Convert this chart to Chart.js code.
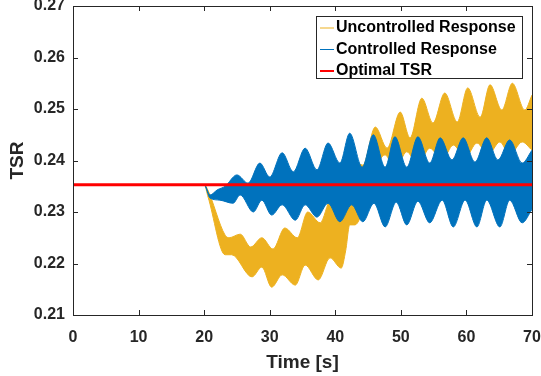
<!DOCTYPE html>
<html>
<head>
<meta charset="utf-8">
<script src="https://cdn.jsdelivr.net/npm/chart.js@4.4.0/dist/chart.umd.min.js"></script>
<style>
html, body { margin: 0; padding: 0; background: #fff; }
</style>
</head>
<body>
<canvas id="grafico" width="541" height="376"></canvas>
<script>
// Envolventes (tiempo en s, TSR)
const tiempoSupNoCtrl = [0, 20.0, 20.4, 23.2, 23.8, 25.5, 27.1, 28.8, 30.5, 32.3, 34.2, 35.8, 37.7, 39.3, 41.0, 42.5, 44.2, 46.1, 47.9, 49.9, 51.4, 53.2, 54.9, 56.7, 58.6, 60.2, 62.1, 63.6, 65.4, 67.0, 68.9, 70.0];
const valorSupNoCtrl  = [0.2353, 0.2353, 0.2347, 0.2255, 0.2250, 0.2257, 0.2232, 0.2250, 0.2228, 0.2269, 0.2250, 0.2300, 0.2279, 0.2323, 0.2300, 0.2401, 0.2391, 0.2465, 0.2424, 0.2494, 0.2444, 0.2521, 0.2473, 0.2531, 0.2475, 0.2541, 0.2484, 0.2547, 0.2498, 0.2550, 0.2498, 0.2527];

const tiempoInfNoCtrl = [0, 20.0, 20.6, 23.2, 24.2, 27.3, 28.8, 30.3, 31.9, 33.9, 35.4, 37.4, 39.2, 40.9, 41.6, 42.2, 43.0, 44.5, 45.8, 47.6, 49.1, 50.9, 52.6, 54.4, 56.3, 58.0, 59.8, 61.6, 63.3, 65.1, 66.6, 68.5, 70.0];
const valorInfNoCtrl  = [0.2353, 0.2353, 0.2329, 0.2217, 0.2217, 0.2174, 0.2193, 0.2154, 0.2178, 0.2158, 0.2197, 0.2168, 0.2211, 0.2191, 0.2226, 0.2275, 0.2275, 0.2314, 0.2372, 0.2411, 0.2382, 0.2417, 0.2391, 0.2424, 0.2401, 0.2430, 0.2405, 0.2434, 0.2411, 0.2436, 0.2411, 0.2436, 0.2420];

const tiempoSupCtrl = [0, 20.0, 20.9, 22.0, 23.2, 25.0, 26.7, 28.5, 30.0, 31.9, 33.6, 35.4, 37.2, 38.9, 40.7, 42.2, 44.1, 45.8, 47.6, 49.1, 50.9, 52.6, 54.4, 56.0, 57.8, 59.5, 61.3, 63.1, 64.8, 66.6, 68.5, 70.0];
const valorSupCtrl  = [0.2353, 0.2353, 0.2333, 0.2343, 0.2350, 0.2372, 0.2356, 0.2395, 0.2368, 0.2415, 0.2378, 0.2424, 0.2382, 0.2434, 0.2395, 0.2453, 0.2387, 0.2450, 0.2387, 0.2446, 0.2387, 0.2446, 0.2395, 0.2444, 0.2401, 0.2444, 0.2397, 0.2444, 0.2401, 0.2440, 0.2395, 0.2420];

const tiempoInfCtrl = [0, 20.0, 20.9, 22.4, 24.4, 25.5, 27.5, 28.8, 30.3, 31.9, 33.9, 35.4, 37.2, 38.9, 40.7, 42.5, 44.2, 45.9, 47.6, 49.3, 50.9, 52.6, 54.4, 56.3, 58.0, 59.8, 61.6, 63.1, 65.1, 66.6, 68.5, 70.0];
const valorInfCtrl  = [0.2353, 0.2353, 0.2327, 0.2323, 0.2317, 0.2333, 0.2300, 0.2323, 0.2294, 0.2314, 0.2284, 0.2314, 0.2290, 0.2317, 0.2281, 0.2314, 0.2281, 0.2317, 0.2271, 0.2319, 0.2275, 0.2321, 0.2279, 0.2323, 0.2271, 0.2323, 0.2271, 0.2323, 0.2271, 0.2323, 0.2279, 0.2305];

const tiempoOptimo = [0, 70];
const valorOptimo  = [0.2353, 0.2353];

const marcasX = [0, 10, 20, 30, 40, 50, 60, 70];
const marcasY = [0.21, 0.22, 0.23, 0.24, 0.25, 0.26, 0.27];

const etiquetasLeyenda = ['Uncontrolled Response', 'Controlled Response', 'Optimal TSR'];
const coloresLeyenda = ['#EDB120', '#0072BD', '#FF0000'];

const colorEjes = '#262626';
const fuente = '"Liberation Sans", Arial, Helvetica, sans-serif';

function puntos(ts, vs) {
    return ts.map((t, i) => ({ x: t, y: vs[i] }));
}

// Ejes tipo MATLAB: caja completa con marcas hacia adentro
const cajaMatlab = {
    id: 'cajaMatlab',
    afterDatasetsDraw(chart) {
        const ctx = chart.ctx;
        const a = chart.chartArea;
        const sx = chart.scales.x;
        const sy = chart.scales.y;
        const largo = 5;
        ctx.save();
        ctx.strokeStyle = colorEjes;
        ctx.lineWidth = 1;
        ctx.beginPath();
        sx.ticks.forEach(t => {
            const px = Math.round(sx.getPixelForValue(t.value)) + 0.5;
            ctx.moveTo(px, a.bottom);
            ctx.lineTo(px, a.bottom - largo);
            ctx.moveTo(px, a.top);
            ctx.lineTo(px, a.top + largo);
        });
        sy.ticks.forEach(t => {
            const py = Math.round(sy.getPixelForValue(t.value)) + 0.5;
            ctx.moveTo(a.left, py);
            ctx.lineTo(a.left + largo, py);
            ctx.moveTo(a.right, py);
            ctx.lineTo(a.right - largo, py);
        });
        ctx.stroke();
        ctx.strokeRect(Math.round(a.left) + 0.5, Math.round(a.top) + 0.5,
            Math.round(a.right - a.left), Math.round(a.bottom - a.top));
        ctx.restore();
    }
};

// Leyenda dentro del area de trazado, arriba a la derecha
const leyendaMatlab = {
    id: 'leyendaMatlab',
    afterDraw(chart) {
        const ctx = chart.ctx;
        const x0 = 316, y0 = 16, ancho = 206, alto = 62;
        ctx.save();
        ctx.fillStyle = '#fff';
        ctx.fillRect(x0, y0, ancho, alto);
        ctx.strokeStyle = colorEjes;
        ctx.lineWidth = 1;
        ctx.strokeRect(x0 + 0.5, y0 + 0.5, ancho, alto);
        ctx.font = 'bold 16px ' + fuente;
        ctx.textBaseline = 'middle';
        etiquetasLeyenda.forEach((txt, i) => {
            const y = y0 + 12 + i * 21.5;
            ctx.strokeStyle = coloresLeyenda[i];
            ctx.lineWidth = i === 2 ? 2 : 1;
            ctx.beginPath();
            ctx.moveTo(x0 + 4, y);
            ctx.lineTo(x0 + 18, y);
            ctx.stroke();
            ctx.fillStyle = '#000';
            ctx.fillText(txt, x0 + 20, y);
        });
        ctx.restore();
    }
};

function crearGrafico() {
    const ctx = document.getElementById('grafico').getContext('2d');
    const banda = {
        borderWidth: 1,
        pointRadius: 0,
        cubicInterpolationMode: 'monotone'
    };
    new Chart(ctx, {
        type: 'line',
        data: {
            datasets: [
                Object.assign({
                    label: 'Uncontrolled Response',
                    data: puntos(tiempoSupNoCtrl, valorSupNoCtrl),
                    borderColor: '#EDB120',
                    backgroundColor: '#EDB120',
                    fill: false,
                    order: 3
                }, banda),
                Object.assign({
                    label: 'Uncontrolled Response (inf)',
                    data: puntos(tiempoInfNoCtrl, valorInfNoCtrl),
                    borderColor: '#EDB120',
                    backgroundColor: '#EDB120',
                    fill: '-1',
                    order: 3
                }, banda),
                Object.assign({
                    label: 'Controlled Response',
                    data: puntos(tiempoSupCtrl, valorSupCtrl),
                    borderColor: '#0072BD',
                    backgroundColor: '#0072BD',
                    fill: false,
                    order: 2
                }, banda),
                Object.assign({
                    label: 'Controlled Response (inf)',
                    data: puntos(tiempoInfCtrl, valorInfCtrl),
                    borderColor: '#0072BD',
                    backgroundColor: '#0072BD',
                    fill: '-1',
                    order: 2
                }, banda),
                {
                    label: 'Optimal TSR',
                    data: puntos(tiempoOptimo, valorOptimo),
                    borderColor: '#FF0000',
                    borderWidth: 3,
                    pointRadius: 0,
                    fill: false,
                    order: 1
                }
            ]
        },
        options: {
            responsive: false,
            animation: false,
            devicePixelRatio: 1,
            layout: { padding: { left: 0, right: 9, top: 6, bottom: 0 } },
            scales: {
                x: {
                    type: 'linear',
                    min: 0,
                    max: 70,
                    afterBuildTicks: s => { s.ticks = marcasX.map(v => ({ value: v })); },
                    afterFit: s => { s.height = 61; s.paddingLeft = 0; s.paddingRight = 0; },
                    grid: { display: false, drawTicks: false },
                    border: { display: false },
                    ticks: {
                        padding: 13,
                        color: colorEjes,
                        font: { family: fuente, size: 16, weight: 'bold' },
                        maxRotation: 0,
                        callback: v => String(v)
                    },
                    title: {
                        display: true,
                        text: 'Time [s]',
                        color: colorEjes,
                        font: { family: fuente, size: 19, weight: 'bold' },
                        padding: { top: 0, bottom: 2 }
                    }
                },
                y: {
                    type: 'linear',
                    min: 0.21,
                    max: 0.27,
                    afterBuildTicks: s => { s.ticks = marcasY.map(v => ({ value: v })); },
                    afterFit: s => { s.width = 73; s.paddingTop = 0; s.paddingBottom = 0; },
                    grid: { display: false, drawTicks: false },
                    border: { display: false },
                    ticks: {
                        padding: 8,
                        color: colorEjes,
                        font: { family: fuente, size: 16, weight: 'bold' },
                        callback: v => v.toFixed(2)
                    },
                    title: {
                        display: true,
                        text: 'TSR',
                        color: colorEjes,
                        font: { family: fuente, size: 19, weight: 'bold' },
                        padding: { top: 6, bottom: 0 }
                    }
                }
            },
            plugins: {
                legend: { display: false },
                tooltip: { enabled: false }
            }
        },
        plugins: [cajaMatlab, leyendaMatlab]
    });
}

document.addEventListener('DOMContentLoaded', function() {
    crearGrafico();
});
</script>
</body>
</html>
